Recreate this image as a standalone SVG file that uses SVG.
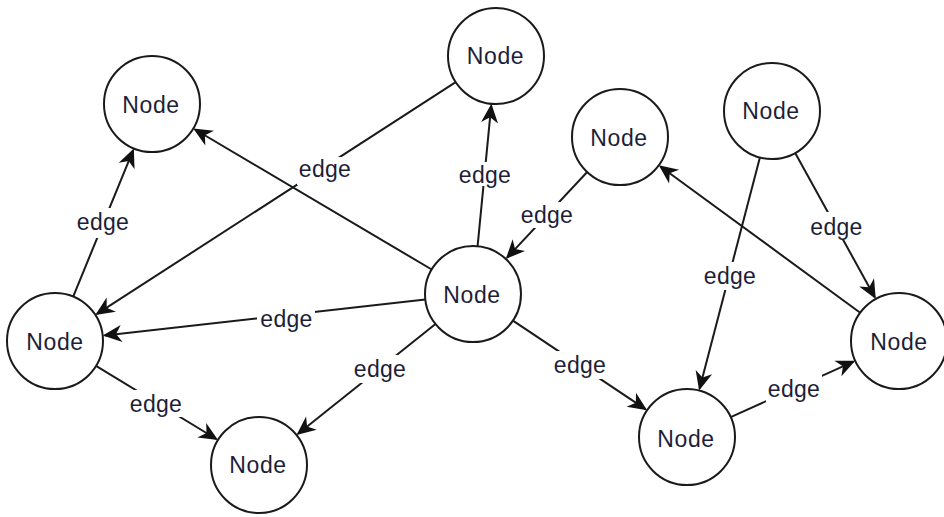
<svg xmlns="http://www.w3.org/2000/svg" width="944" height="517" viewBox="0 0 944 517">
  <style>
    .node circle { fill: #ffffff; stroke: #1a1a1a; stroke-width: 2; }
    .node text { font-family: "Liberation Sans", Arial, sans-serif; font-size: 23px; fill: #1e1e38; text-anchor: middle; letter-spacing: 0.6px; }
    .edge { stroke: #1a1a1a; stroke-width: 2; fill: none; marker-end: url(#arrow); }
    .label rect { fill: #ffffff; }
    .label text { font-family: "Liberation Sans", Arial, sans-serif; font-size: 23px; fill: #1e1e38; text-anchor: middle; letter-spacing: 0.3px; }
  </style>
  <defs>
    <marker id="arrow" viewBox="-20 -10 22 20" refX="-2" refY="0" markerWidth="22" markerHeight="20" markerUnits="userSpaceOnUse" orient="auto">
      <path d="M0,0 L-19,-8.5 L-13.5,0 L-19,8.5 Z" fill="#111111"/>
    </marker>
  </defs>
  <rect width="944" height="517" fill="#ffffff"/>

  <!-- connectors: straight lines between node centres, clipped at the circles -->
  <g id="connectors">
    <line class="edge" x1="73.2" y1="296.6" x2="133.1" y2="150.3"/>
    <line class="edge" x1="455.7" y1="82.1" x2="97.0" y2="313.9"/>
    <line class="edge" x1="431.7" y1="269.5" x2="195.0" y2="129.5"/>
    <line class="edge" x1="477.6" y1="246.2" x2="491.2" y2="105.8"/>
    <line class="edge" x1="587.2" y1="172.0" x2="507.2" y2="257.5"/>
    <line class="edge" x1="795.2" y1="153.0" x2="874.8" y2="297.2"/>
    <line class="edge" x1="759.9" y1="157.4" x2="699.6" y2="388.6"/>
    <line class="edge" x1="860.2" y1="312.7" x2="660.4" y2="166.5"/>
    <line class="edge" x1="425.3" y1="299.4" x2="104.7" y2="335.4"/>
    <line class="edge" x1="435.5" y1="324.0" x2="298.1" y2="433.8"/>
    <line class="edge" x1="512.9" y1="320.7" x2="645.4" y2="409.2"/>
    <line class="edge" x1="96.0" y1="365.9" x2="216.3" y2="439.0"/>
    <line class="edge" x1="730.7" y1="417.2" x2="853.4" y2="361.6"/>

    <g class="label"><rect x="75" y="208" width="56" height="30"/><text x="103" y="230">edge</text></g>
    <g class="label"><rect x="297" y="157" width="56" height="28"/><text x="325" y="177">edge</text></g>
    <g class="label"><rect x="457" y="162" width="56" height="24"/><text x="485" y="182.5">edge</text></g>
    <g class="label"><rect x="519" y="202" width="56" height="26"/><text x="547" y="223">edge</text></g>
    <g class="label"><rect x="808" y="212" width="57" height="27"/><text x="836.5" y="235">edge</text></g>
    <g class="label"><rect x="702" y="262" width="56" height="28"/><text x="730" y="284">edge</text></g>
    <g class="label"><rect x="257" y="305" width="58" height="28"/><text x="286.5" y="326.5">edge</text></g>
    <g class="label"><rect x="352" y="355" width="56" height="28"/><text x="380" y="377">edge</text></g>
    <g class="label"><rect x="552" y="351" width="56" height="28"/><text x="580" y="373">edge</text></g>
    <g class="label"><rect x="128" y="390" width="56" height="27"/><text x="156" y="411.5">edge</text></g>
    <g class="label"><rect x="766" y="375" width="56" height="27"/><text x="794" y="396.5">edge</text></g>
  </g>

  <!-- nodes -->
  <g id="node-a" class="node"><circle cx="152" cy="104" r="48"/><text x="151" y="112.5">Node</text></g>
  <g id="node-b" class="node"><circle cx="496" cy="56" r="48"/><text x="495.5" y="64">Node</text></g>
  <g id="node-c" class="node"><circle cx="620" cy="137" r="48"/><text x="619" y="146">Node</text></g>
  <g id="node-d" class="node"><circle cx="772" cy="111" r="48"/><text x="771" y="119">Node</text></g>
  <g id="node-e" class="node"><circle cx="473" cy="294" r="48"/><text x="472" y="302.5">Node</text></g>
  <g id="node-f" class="node"><circle cx="55" cy="341" r="48"/><text x="55" y="350">Node</text></g>
  <g id="node-g" class="node"><circle cx="259" cy="465" r="48"/><text x="258" y="473">Node</text></g>
  <g id="node-h" class="node"><circle cx="687" cy="437" r="48"/><text x="686" y="446.5">Node</text></g>
  <g id="node-i" class="node"><circle cx="899" cy="341" r="48"/><text x="899" y="350">Node</text></g>
</svg>
